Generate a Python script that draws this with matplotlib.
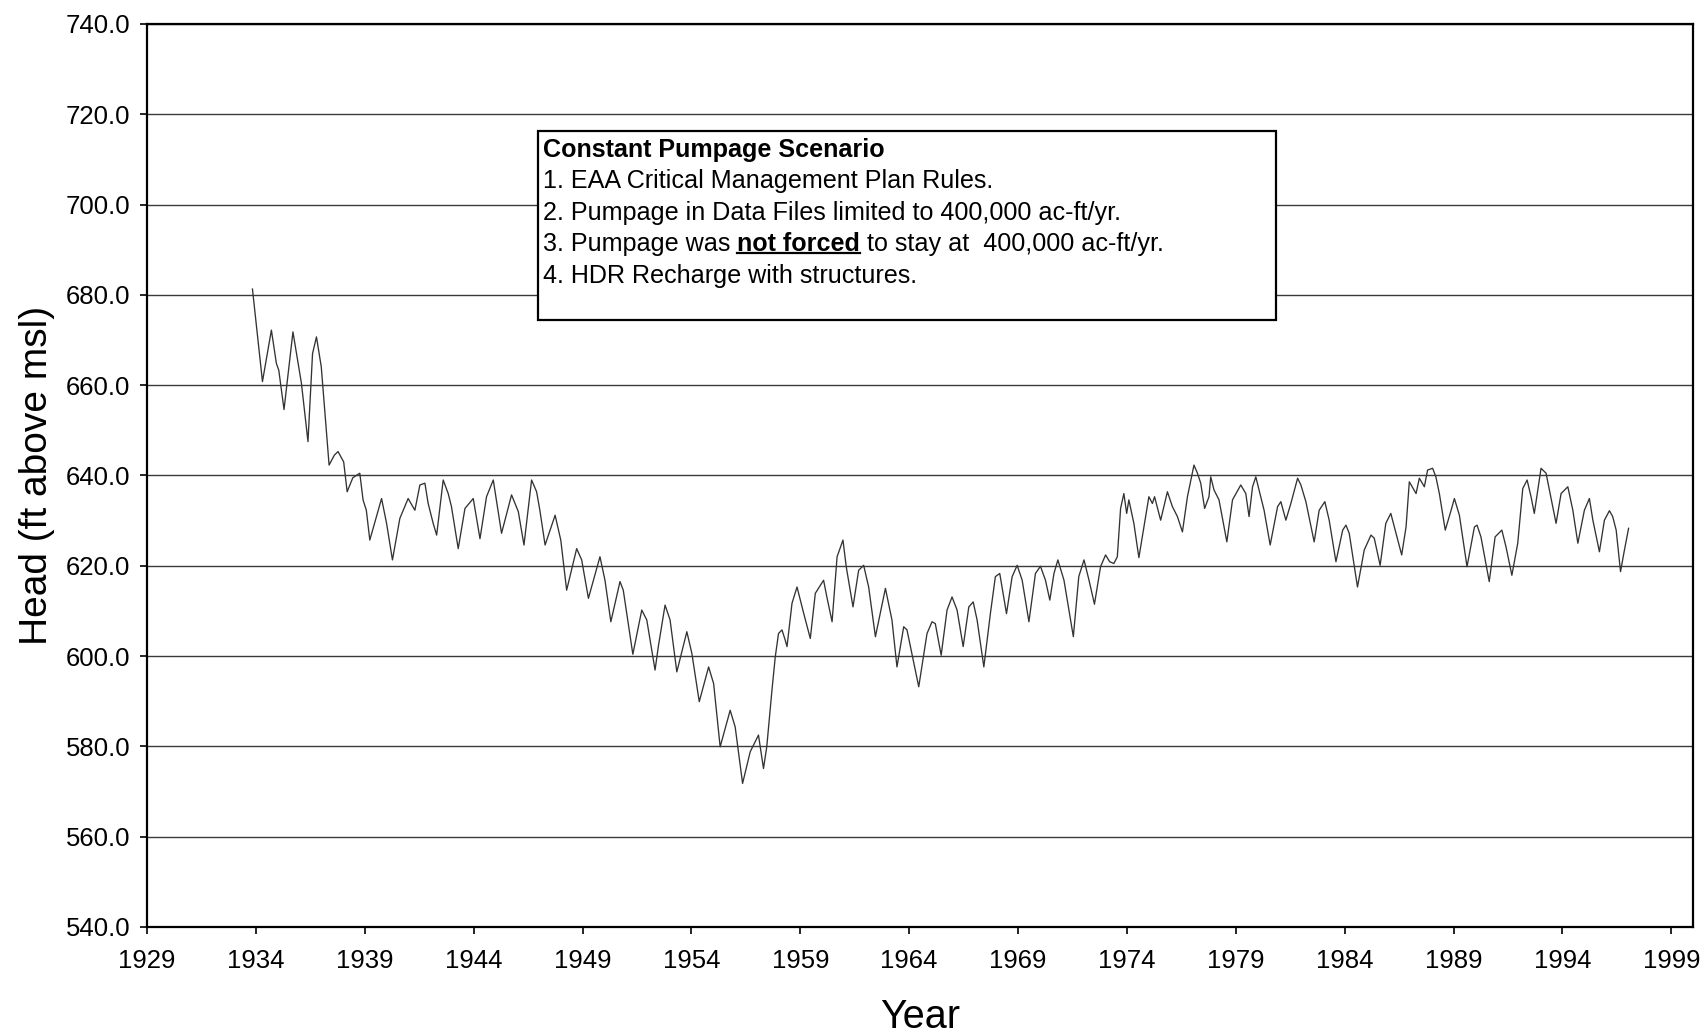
import numpy as np
import matplotlib
matplotlib.use('Agg')
import matplotlib.pyplot as plt
from matplotlib.patches import Rectangle
from matplotlib.lines import Line2D

plt.rcParams['font.family'] = ['Liberation Sans', 'DejaVu Sans']

# simulated head (decimal year, ft above msl)
year = [1933.84, 1934.05, 1934.30, 1934.71, 1934.94, 1935.05, 1935.29, 1935.70, 1936.09, 1936.39,
        1936.60, 1936.78, 1937.00, 1937.36, 1937.60, 1937.77, 1938.03, 1938.19, 1938.45, 1938.77,
        1938.92, 1939.07, 1939.23, 1939.77, 1940.00, 1940.27, 1940.61, 1940.99, 1941.30, 1941.53,
        1941.76, 1941.91, 1942.14, 1942.30, 1942.60, 1942.83, 1942.98, 1943.29, 1943.60, 1943.98,
        1944.29, 1944.59, 1944.90, 1945.28, 1945.74, 1946.05, 1946.31, 1946.66, 1946.89, 1947.04,
        1947.28, 1947.74, 1948.00, 1948.27, 1948.73, 1948.96, 1949.27, 1949.80, 1950.03, 1950.30,
        1950.72, 1950.87, 1951.31, 1951.72, 1951.95, 1952.33, 1952.48, 1952.79, 1953.02, 1953.33,
        1953.79, 1954.02, 1954.36, 1954.79, 1955.02, 1955.32, 1955.78, 1956.01, 1956.35, 1956.70,
        1957.08, 1957.31, 1957.46, 1957.70, 1957.85, 1958.00, 1958.16, 1958.31, 1958.39, 1958.62,
        1958.85, 1959.16, 1959.46, 1959.69, 1960.07, 1960.22, 1960.46, 1960.69, 1960.96, 1961.11,
        1961.42, 1961.68, 1961.91, 1962.14, 1962.45, 1962.91, 1963.21, 1963.44, 1963.75, 1963.90,
        1964.44, 1964.82, 1965.05, 1965.20, 1965.47, 1965.74, 1965.97, 1966.20, 1966.48, 1966.74,
        1966.94, 1967.12, 1967.43, 1967.73, 1967.96, 1968.16, 1968.34, 1968.47, 1968.73, 1968.96,
        1969.19, 1969.50, 1969.80, 1970.03, 1970.26, 1970.46, 1970.65, 1970.83, 1971.11, 1971.54,
        1971.79, 1972.03, 1972.26, 1972.51, 1972.79, 1973.02, 1973.21, 1973.40, 1973.56, 1973.71,
        1973.86, 1973.99, 1974.09, 1974.32, 1974.55, 1974.78, 1975.01, 1975.17, 1975.27, 1975.55,
        1975.86, 1976.09, 1976.32, 1976.55, 1976.78, 1977.08, 1977.24, 1977.39, 1977.57, 1977.77,
        1977.85, 1978.00, 1978.23, 1978.59, 1978.85, 1979.23, 1979.46, 1979.61, 1979.77, 1979.92,
        1980.07, 1980.30, 1980.58, 1980.92, 1981.07, 1981.30, 1981.53, 1981.84, 1981.99, 1982.22,
        1982.60, 1982.83, 1983.09, 1983.29, 1983.60, 1983.91, 1984.06, 1984.21, 1984.59, 1984.90,
        1985.21, 1985.36, 1985.63, 1985.89, 1986.12, 1986.36, 1986.62, 1986.82, 1986.97, 1987.28,
        1987.43, 1987.66, 1987.81, 1988.04, 1988.19, 1988.35, 1988.62, 1988.89, 1989.04, 1989.27,
        1989.62, 1989.96, 1990.08, 1990.26, 1990.64, 1990.91, 1991.22, 1991.41, 1991.68, 1991.95,
        1992.18, 1992.38, 1992.56, 1992.71, 1992.87, 1993.02, 1993.25, 1993.48, 1993.71, 1993.94,
        1994.25, 1994.48, 1994.71, 1995.01, 1995.24, 1995.40, 1995.70, 1995.93, 1996.16, 1996.31,
        1996.47, 1996.67, 1996.85, 1997.04]
head = [681.3, 672.0, 660.8, 672.2, 664.8, 663.3, 654.6, 671.8, 660.4, 647.5,
        667.0, 670.7, 664.1, 642.3, 644.5, 645.3, 643.0, 636.4, 639.5, 640.5,
        634.6, 632.3, 625.7, 634.9, 629.4, 621.3, 630.5, 634.9, 632.3, 637.9,
        638.3, 633.8, 629.4, 626.8, 639.0, 636.0, 633.1, 623.8, 632.7, 634.9,
        626.0, 635.3, 639.0, 627.2, 635.7, 632.0, 624.6, 639.0, 636.4, 632.3,
        624.6, 631.2, 625.7, 614.6, 623.8, 621.3, 612.8, 622.0, 616.8, 607.6,
        616.5, 614.6, 600.4, 610.2, 608.0, 596.9, 602.1, 611.3, 608.0, 596.5,
        605.4, 600.6, 589.9, 597.6, 593.9, 579.9, 588.0, 584.3, 571.8, 578.8,
        582.5, 575.1, 579.9, 592.5, 599.8, 605.0, 605.8, 603.5, 602.1, 611.7,
        615.3, 609.4, 603.9, 613.9, 616.8, 613.1, 607.6, 622.0, 625.7, 619.8,
        610.9, 619.0, 620.1, 615.3, 604.3, 615.0, 608.0, 597.6, 606.5, 605.8,
        593.2, 605.0, 607.6, 607.2, 600.2, 610.2, 613.1, 610.2, 602.1, 610.9,
        612.0, 608.0, 597.6, 609.4, 617.6, 618.3, 613.1, 609.4, 617.6, 620.1,
        616.8, 607.6, 618.3, 619.9, 616.8, 612.4, 618.3, 621.3, 616.8, 604.3,
        617.6, 621.3, 616.8, 611.5, 619.8, 622.4, 620.9, 620.5, 622.0, 632.7,
        636.0, 631.6, 634.6, 629.4, 621.8, 628.6, 635.3, 633.8, 635.3, 630.1,
        636.4, 633.1, 630.9, 627.5, 635.3, 642.3, 640.5, 638.3, 632.7, 635.3,
        639.7, 636.8, 634.6, 625.3, 634.6, 637.9, 636.0, 630.9, 637.5, 639.7,
        636.8, 632.3, 624.6, 633.1, 634.2, 630.1, 633.8, 639.4, 637.9, 634.2,
        625.3, 632.3, 634.2, 630.1, 620.9, 627.9, 629.0, 627.2, 615.3, 623.5,
        626.8, 626.1, 620.1, 629.4, 631.6, 627.2, 622.4, 628.6, 638.6, 636.0,
        639.4, 637.5, 641.2, 641.6, 639.7, 636.0, 627.9, 632.3, 634.9, 631.2,
        619.8, 628.6, 629.0, 626.4, 616.5, 626.4, 627.9, 624.2, 617.9, 625.0,
        637.1, 639.0, 635.3, 631.6, 636.8, 641.6, 640.5, 634.9, 629.4, 636.0,
        637.5, 632.3, 625.0, 632.3, 634.9, 630.1, 623.1, 630.1, 632.2, 630.9,
        627.9, 618.7, 623.5, 628.3]

x_ticks = np.arange(1929, 2000, 5)
y_ticks = np.arange(540, 741, 20)

box_title = 'Constant Pumpage Scenario'
box_lines = ['1. EAA Critical Management Plan Rules.',
             '2. Pumpage in Data Files limited to 400,000 ac-ft/yr.',
             None,
             '4. HDR Recharge with structures.']

fig = plt.figure(figsize=(17.06, 10.34), dpi=100)
ax = fig.add_axes([0.0862, 0.1035, 0.9062, 0.8733])

ax.plot(year, head, color='#333333', lw=0.95)

ax.set_xlim(1929, 2000)
ax.set_ylim(540, 740)
ax.set_xticks(x_ticks)
ax.set_yticks(y_ticks)
ax.set_yticklabels(['%.1f' % v for v in y_ticks])
ax.yaxis.grid(True, color='#3a3a3a', lw=1.0)
ax.set_axisbelow(True)
ax.tick_params(axis='both', direction='out', length=5, width=1.2, labelsize=18.5, colors='black')
ax.tick_params(axis='x', pad=11)
ax.tick_params(axis='y', pad=7)
for s in ax.spines.values():
    s.set_linewidth(1.6)
    s.set_color('black')

ax.set_xlabel('Year', fontsize=28.5, labelpad=18)
ax.set_ylabel('Head (ft above msl)', fontsize=28, labelpad=8)

# scenario box
ax.add_patch(Rectangle((0.253, 0.672), 0.477, 0.209, transform=ax.transAxes,
                       facecolor='white', edgecolor='black', lw=1.6, zorder=5))
fs = 18.1
x0 = 0.256
ys = [0.860, 0.826, 0.791, 0.756, 0.721]
ax.text(x0, ys[0], box_title, transform=ax.transAxes, fontsize=fs, fontweight='bold',
        va='center', zorder=6)
for i, t in enumerate(box_lines):
    if t is not None:
        ax.text(x0, ys[i + 1], t, transform=ax.transAxes, fontsize=fs, va='center', zorder=6)

# line 3 with the bold, underlined words
t1 = ax.text(x0, ys[3], '3. Pumpage was ', transform=ax.transAxes, fontsize=fs,
             va='center', zorder=6)
t2 = ax.annotate('not forced', xy=(1, 0), xycoords=t1, fontsize=fs, fontweight='bold',
                 va='bottom', ha='left', zorder=6)
t3 = ax.annotate(' to stay at  400,000 ac-ft/yr.', xy=(1, 0), xycoords=t2, fontsize=fs,
                 va='bottom', ha='left', zorder=6)

fig.canvas.draw()
bb = t2.get_window_extent().transformed(fig.transFigure.inverted())
uy = bb.y0 + 3.0 / fig.bbox.height
fig.add_artist(Line2D([bb.x0, bb.x1], [uy, uy], color='black', lw=1.6, zorder=7))

plt.savefig('out.png', dpi=100)
